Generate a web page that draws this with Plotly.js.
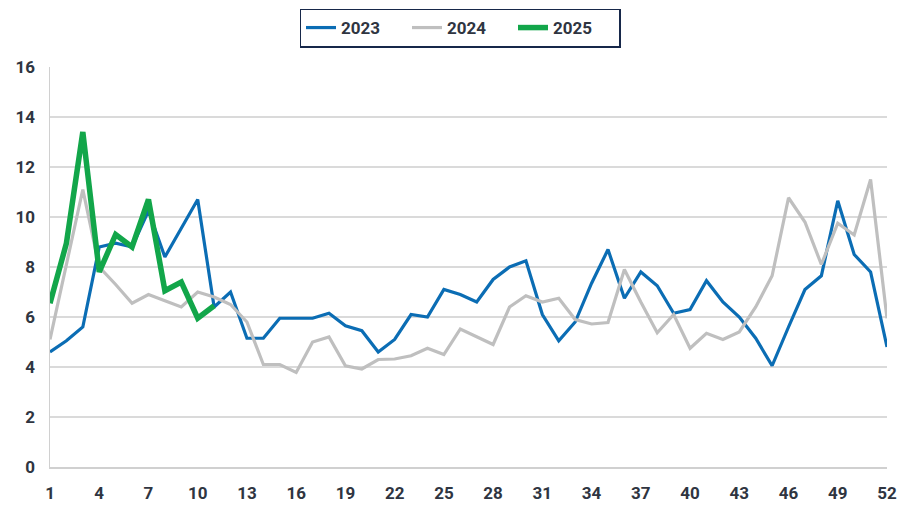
<!DOCTYPE html>
<html>
<head>
<meta charset="utf-8">
<script src="https://cdn.plot.ly/plotly-3.0.1.min.js"></script>
<style>html,body{margin:0;padding:0;background:#fff;}#chart{width:920px;height:515px;}</style>
</head>
<body>
<div id="chart"></div>
<script>
const weeks = Array.from({length: 52}, (_, i) => i + 1);
const weeks2025 = weeks.slice(0, 11);

const values2023 = [4.6, 5.05, 5.6, 8.8, 8.95, 8.8, 10.25, 8.4, 9.55, 10.7, 6.4, 7.0, 5.15, 5.15, 5.95, 5.95,
  5.95, 6.15, 5.65, 5.45, 4.6, 5.1, 6.1, 6.0, 7.1, 6.9, 6.6, 7.5, 8.0, 8.25, 6.1, 5.05, 5.8,
  7.35, 8.7, 6.75, 7.8, 7.25, 6.15, 6.3, 7.45, 6.6, 6.0, 5.15, 4.05, 5.6, 7.1, 7.65, 10.65, 8.5, 7.8, 4.8];

const values2024 = [5.1, 8.1, 11.1, 8.0, 7.3, 6.55, 6.9, 6.65, 6.4, 7.0, 6.8, 6.5, 5.8, 4.1, 4.1, 3.78,
  5.0, 5.2, 4.05, 3.92, 4.3, 4.32, 4.45, 4.75, 4.5, 5.52, 5.2, 4.9, 6.4, 6.85, 6.6, 6.75, 5.9,
  5.72, 5.78, 7.9, 6.6, 5.37, 6.1, 4.75, 5.35, 5.1, 5.4, 6.4, 7.65, 10.77, 9.8, 8.1, 9.75, 9.28, 11.5, 5.95];

const values2025 = [6.55, 8.95, 13.4, 7.8, 9.3, 8.8, 10.7, 7.05, 7.4, 5.95, 6.45];

const yTicks = [0, 2, 4, 6, 8, 10, 12, 14, 16];
const xTicks = [1, 4, 7, 10, 13, 16, 19, 22, 25, 28, 31, 34, 37, 40, 43, 46, 49, 52];

const FONT = "Roboto, 'Liberation Sans', sans-serif";
const TEXT = "#2f3541";

const traces = [
  {x: weeks, y: values2023, name: "2023", type: "scatter", mode: "lines",
   line: {color: "#0b6db4", width: 3.2}},
  {x: weeks, y: values2024, name: "2024", type: "scatter", mode: "lines",
   line: {color: "#bfbfbf", width: 3.2}},
  {x: weeks2025, y: values2025, name: "2025", type: "scatter", mode: "lines",
   line: {color: "#12a64a", width: 5.5}}
];

const layout = {
  width: 920, height: 515,
  margin: {l: 50, r: 33, t: 67, b: 48},
  paper_bgcolor: "#ffffff", plot_bgcolor: "#ffffff",
  font: {family: FONT, size: 17, color: TEXT, weight: 700},
  showlegend: true,
  legend: {
    orientation: "h", xref: "container", yref: "container",
    x: 0.5, xanchor: "center", y: 0.9456, yanchor: "middle",
    bordercolor: "#17284a", borderwidth: 1.5, bgcolor: "#ffffff",
    font: {family: FONT, size: 17, color: TEXT, weight: 700},
    traceorder: "normal", itemwidth: 30, entrywidth: 61, entrywidthmode: "pixels"
  },
  xaxis: {
    range: [1, 52], tickmode: "array", tickvals: xTicks, ticktext: xTicks.map(String),
    showgrid: false, zeroline: false, showline: true, linecolor: "#d0d0d0", linewidth: 1.5,
    ticks: "", ticklabelstandoff: 10,
    tickfont: {family: FONT, size: 17, color: TEXT, weight: 700}
  },
  yaxis: {
    range: [0, 16], tickmode: "array", tickvals: yTicks, ticktext: yTicks.map(String),
    showgrid: true, gridcolor: "#dadada", gridwidth: 1.5, zeroline: false,
    showline: true, linecolor: "#d0d0d0", linewidth: 1.5, ticks: "", ticklabelstandoff: 10,
    tickfont: {family: FONT, size: 17, color: TEXT, weight: 700}
  }
};

Plotly.newPlot("chart", traces, layout, {displayModeBar: false, staticPlot: true});
</script>
</body>
</html>
